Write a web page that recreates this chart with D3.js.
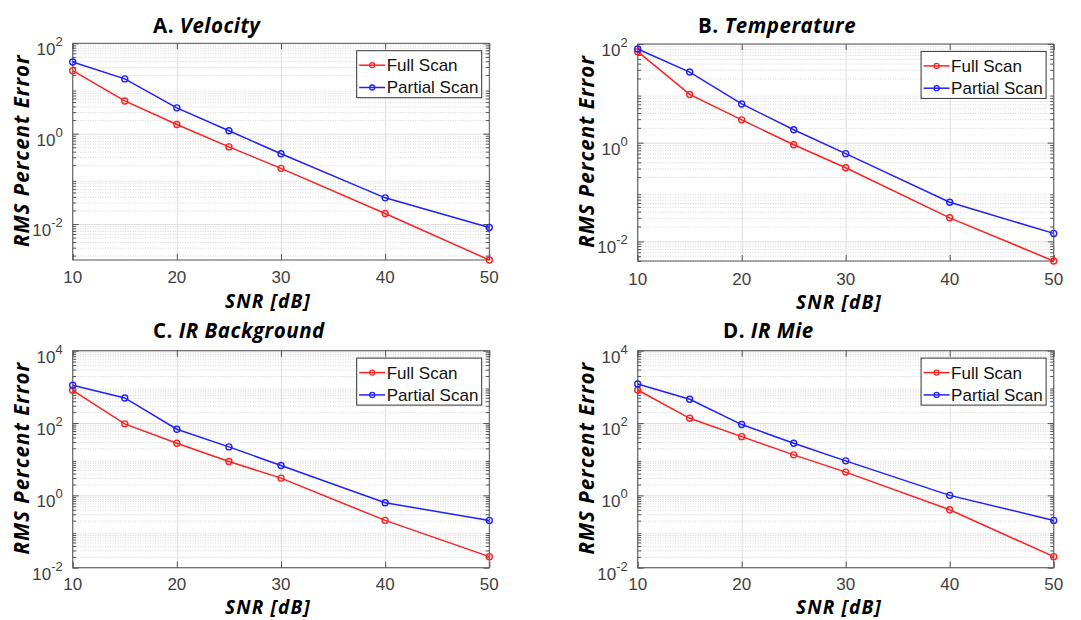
<!DOCTYPE html>
<html>
<head>
<meta charset="utf-8">
<script src="https://cdn.jsdelivr.net/npm/d3@7"></script>
<style>
  body { margin: 0; background: #fff; }
  svg { display: block; }
  .tick-label { font-family: "Liberation Sans", Arial, sans-serif; fill: #404040; }
  .heading { font-family: "Open Sans", sans-serif; font-weight: bold; fill: #000; }
</style>
</head>
<body>
<svg id="chart" width="1081" height="620"></svg>
<script>
// SNR values shared by every panel
var snr = [10, 15, 20, 25, 30, 40, 50];
var xTicks = [10, 20, 30, 40, 50];
var seriesNames = ["Full Scan", "Partial Scan"];

// RMS percent error
var velocityFull = [24.8, 5.3, 1.6, 0.51, 0.171, 0.0171, 0.0016];
var velocityPartial = [38.6, 16.3, 3.73, 1.16, 0.36, 0.038, 0.0084];
var temperatureFull = [70, 9.5, 2.9, 0.91, 0.31, 0.030, 0.004];
var temperaturePartial = [79, 27, 6.1, 1.83, 0.6, 0.062, 0.0145];
var irBackgroundFull = [804, 95, 27.7, 8.65, 3.0, 0.203, 0.0202];
var irBackgroundPartial = [1105, 494, 67.5, 21.9, 6.7, 0.625, 0.203];
var irMieFull = [820, 135, 42, 13.2, 4.4, 0.40, 0.0202];
var irMiePartial = [1202, 454, 90.7, 27.7, 9.0, 1.0, 0.203];

// y tick exponents per panel
var yExpSmall = [-2, 0, 2];
var yExpLarge = [-2, 0, 2, 4];

var colors = ["#ff2020", "#2020ff"];

var panels = [
    {letter: "A.", name: "Velocity", full: velocityFull, partial: velocityPartial,
     yDomain: [0.0016, 100], yExp: yExpSmall,
     left: 72.7, top: 43.3, width: 416.6, height: 216.7, titleX: 153, titleY: 33,
     xLabelX: 268, tickDy: 23.5, labelDy: 47.5},
    {letter: "B.", name: "Temperature", full: temperatureFull, partial: temperaturePartial,
     yDomain: [0.004, 100], yExp: yExpSmall,
     left: 637.7, top: 44, width: 416, height: 217, titleX: 698, titleY: 33,
     xLabelX: 839, tickDy: 23.5, labelDy: 47.5},
    {letter: "C.", name: "IR Background", full: irBackgroundFull, partial: irBackgroundPartial,
     yDomain: [0.01, 10000], yExp: yExpLarge,
     left: 72.7, top: 350.7, width: 416.6, height: 217, titleX: 153, titleY: 338,
     xLabelX: 268, tickDy: 22, labelDy: 46},
    {letter: "D.", name: "IR Mie", full: irMieFull, partial: irMiePartial,
     yDomain: [0.01, 10000], yExp: yExpLarge,
     left: 637.7, top: 350.7, width: 416, height: 217, titleX: 723, titleY: 338,
     xLabelX: 839, tickDy: 22, labelDy: 46}
];

var svg = d3.select("#chart");

function minorValues(domain) {
    var out = [];
    var lo = Math.floor(Math.log10(domain[0]));
    var hi = Math.ceil(Math.log10(domain[1]));
    for (var e = lo; e < hi; e++) {
        for (var m = 2; m <= 9; m++) {
            var v = m * Math.pow(10, e);
            if (v >= domain[0] && v <= domain[1]) out.push(v);
        }
    }
    return out;
}

function drawPanel(p) {
    var g = svg.append("g").attr("transform", "translate(" + p.left + "," + p.top + ")");
    var x = d3.scaleLinear().domain([10, 50]).range([0, p.width]);
    var y = d3.scaleLog().domain(p.yDomain).range([p.height, 0]);
    var majors = p.yExp.map(function (e) { return Math.pow(10, e); });
    var minors = minorValues(p.yDomain);

    // minor grid (dotted)
    g.append("g")
        .call(d3.axisLeft(y).tickValues(minors).tickSize(-p.width).tickFormat(""))
        .call(function (s) {
            s.select(".domain").remove();
            s.selectAll("line").attr("stroke", "#d4d4d4").attr("stroke-dasharray", "1,1.5");
        });
    // major grid
    g.append("g")
        .call(d3.axisLeft(y).tickValues(majors).tickSize(-p.width).tickFormat(""))
        .call(function (s) {
            s.select(".domain").remove();
            s.selectAll("line").attr("stroke", "#dedede");
        });
    g.append("g")
        .call(d3.axisBottom(x).tickValues(xTicks).tickSize(-p.height).tickFormat(""))
        .attr("transform", "translate(0," + p.height + ")")
        .call(function (s) {
            s.select(".domain").remove();
            s.selectAll("line").attr("stroke", "#dedede");
        });

    // inside ticks on all four sides
    function tickStyle(s) {
        s.select(".domain").remove();
        s.selectAll("line").attr("stroke", "#555");
    }
    g.append("g").call(d3.axisLeft(y).tickValues(majors).tickSize(-6).tickFormat("")).call(tickStyle);
    g.append("g").call(d3.axisLeft(y).tickValues(minors).tickSize(-3.5).tickFormat("")).call(tickStyle);
    g.append("g").attr("transform", "translate(" + p.width + ",0)")
        .call(d3.axisRight(y).tickValues(majors).tickSize(-6).tickFormat("")).call(tickStyle);
    g.append("g").attr("transform", "translate(" + p.width + ",0)")
        .call(d3.axisRight(y).tickValues(minors).tickSize(-3.5).tickFormat("")).call(tickStyle);
    g.append("g").attr("transform", "translate(0," + p.height + ")")
        .call(d3.axisBottom(x).tickValues(xTicks).tickSize(-6).tickFormat("")).call(tickStyle);
    g.append("g")
        .call(d3.axisTop(x).tickValues(xTicks).tickSize(-6).tickFormat("")).call(tickStyle);

    // box
    g.append("rect").attr("width", p.width).attr("height", p.height)
        .attr("fill", "none").attr("stroke", "#555").attr("stroke-width", 1);

    // x tick labels
    g.selectAll(".xlab").data(xTicks).enter().append("text")
        .attr("class", "tick-label")
        .attr("x", function (d) { return x(d); })
        .attr("y", p.height + p.tickDy)
        .attr("text-anchor", "middle")
        .attr("font-size", 17)
        .text(function (d) { return d; });

    // y tick labels 10^n
    var yl = g.selectAll(".ylab").data(p.yExp).enter().append("text")
        .attr("class", "tick-label")
        .attr("x", -10)
        .attr("y", function (e) { return y(Math.pow(10, e)) + 12; })
        .attr("text-anchor", "end")
        .attr("font-size", 17);
    yl.append("tspan").text("10");
    yl.append("tspan").attr("dy", -9).attr("font-size", 13).text(function (e) { return e; });

    // series
    var line = d3.line()
        .x(function (d) { return x(d[0]); })
        .y(function (d) { return y(d[1]); });
    [p.full, p.partial].forEach(function (vals, i) {
        var pts = snr.map(function (s, k) { return [s, vals[k]]; });
        g.append("path").datum(pts)
            .attr("fill", "none").attr("stroke", colors[i]).attr("stroke-width", 1.5)
            .attr("d", line);
        g.selectAll(".m" + i).data(pts).enter().append("circle")
            .attr("cx", function (d) { return x(d[0]); })
            .attr("cy", function (d) { return y(d[1]); })
            .attr("r", 3)
            .attr("fill", "none").attr("stroke", colors[i]).attr("stroke-width", 1.4);
    });

    // legend
    var lg = g.append("g").attr("transform", "translate(" + (p.width - 132.6) + ",7.4)");
    lg.append("rect").attr("width", 125).attr("height", 47)
        .attr("fill", "#fff").attr("stroke", "#333").attr("stroke-width", 1);
    seriesNames.forEach(function (name, i) {
        var ly = 14.5 + i * 22.3;
        lg.append("line").attr("x1", 2.5).attr("x2", 28.5).attr("y1", ly).attr("y2", ly)
            .attr("stroke", colors[i]).attr("stroke-width", 1.5);
        lg.append("circle").attr("cx", 15.5).attr("cy", ly).attr("r", 2.5)
            .attr("fill", "none").attr("stroke", colors[i]).attr("stroke-width", 1.3);
        lg.append("text").attr("x", 30).attr("y", ly + 6)
            .attr("font-family", "Liberation Sans, Arial, sans-serif")
            .attr("font-size", 17).attr("fill", "#111")
            .text(name);
    });

    // title
    var t = svg.append("text").attr("class", "heading")
        .attr("x", p.titleX).attr("y", p.titleY).attr("font-size", 20.5)
        .attr("letter-spacing", 0.5);
    t.append("tspan").text(p.letter + " ");
    t.append("tspan").attr("font-style", "italic").text(p.name);

    // axis labels
    svg.append("text").attr("class", "heading")
        .attr("x", p.xLabelX).attr("y", p.top + p.height + p.labelDy)
        .attr("text-anchor", "middle").attr("font-style", "italic").attr("font-size", 19)
        .attr("letter-spacing", 1.2)
        .text("SNR [dB]");
    svg.append("text").attr("class", "heading")
        .attr("transform", "translate(" + (p.left - 51) + "," + (p.top + p.height / 2 - 1) + ") rotate(-90)")
        .attr("dy", "0.36em")
        .attr("text-anchor", "middle").attr("font-style", "italic").attr("font-size", 20.5)
        .attr("letter-spacing", 1)
        .text("RMS Percent Error");
}

panels.forEach(drawPanel);
</script>
</body>
</html>
